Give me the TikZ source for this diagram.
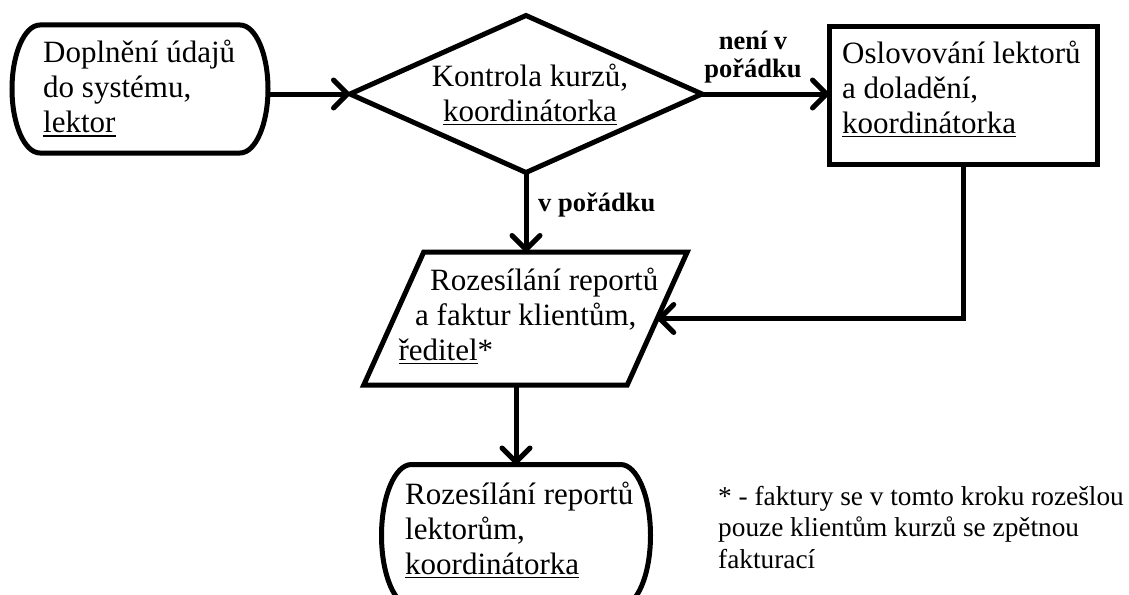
\documentclass[tikz,border=0pt]{standalone}
\usepackage{fontspec}
\setmainfont{Liberation Serif}
\usetikzlibrary{arrows.meta,shapes.geometric}
\newcommand{\undl}[1]{\setbox0=\hbox{#1}\rlap{\vrule height -2.6pt depth 4.2pt width \wd0}\box0}
\newcommand{\vlines}[1]{\vtop{\lineskiplimit=-1000pt\halign{##\hfil\cr #1\crcr}}}
\newcommand{\vclines}[1]{\vtop{\lineskiplimit=-1000pt\halign{\hfil##\hfil\cr #1\crcr}}}
\newcommand{\termoutline}[5]{%
 \pgfmathsetmacro\tmL{#1-#3/2}%
 \pgfmathsetmacro\tmR{#1+#3/2}%
 \pgfmathsetmacro\tmT{#2-#4/2}%
 \pgfmathsetmacro\tmB{#2+#4/2}%
 \pgfmathsetmacro\tmA{\tmL+#5}%
 \pgfmathsetmacro\tmC{\tmR-#5}%
 \pgfmathsetmacro\tmD{0.4477*#5}%
 \pgfmathsetmacro\tmE{0.5523*#4/2}%
 \draw[line width=5pt] (\tmA,\tmT) -- (\tmC,\tmT)
   .. controls ({\tmR-\tmD},\tmT) and (\tmR,{#2-\tmE}) .. (\tmR,#2)
   .. controls (\tmR,{#2+\tmE}) and ({\tmR-\tmD},\tmB) .. (\tmC,\tmB)
   -- (\tmA,\tmB)
   .. controls ({\tmL+\tmD},\tmB) and (\tmL,{#2+\tmE}) .. (\tmL,#2)
   .. controls (\tmL,{#2-\tmE}) and ({\tmL+\tmD},\tmT) .. cycle;
}
\begin{document}
\begin{tikzpicture}[x=1pt,y=-1pt,
  shp/.style={draw=black, line width=5pt, inner sep=0pt, outer sep=0pt},
  ghost/.style={inner sep=0pt, outer sep=0pt},
  conn/.style={line width=5pt, -{Straight Barb[length=14pt,width=28pt,round]}},
  txt/.style={inner sep=0pt, font=\fontsize{31}{35}\selectfont},
  lbl/.style={inner sep=0pt, font=\bfseries\fontsize{26.5}{28}\selectfont},
  note/.style={inner sep=0pt, font=\fontsize{27.3}{31.5}\selectfont}]
\useasboundingbox (0,0) rectangle (1129,594);
\clip (0,0) rectangle (1129,594);
\fill[white] (0,0) rectangle (1129,594);

\node[ghost, minimum width=256pt, minimum height=128pt] (start) at (140,89) {};
\termoutline{140}{89}{256}{128}{28}
\node[shp, diamond, minimum width=352pt, minimum height=157pt] (check) at (526,94) {};
\node[shp, rectangle, minimum width=268pt, minimum height=137.5pt] (fix) at (963,95.75) {};
\node[ghost, minimum width=263.5pt, minimum height=133pt] (send) at (525.5,318.5) {};
\draw[line width=5pt, line join=miter] ([xshift=30pt]send.north west) -- ([xshift=30pt]send.north east)
   -- ([xshift=-30pt]send.south east) -- ([xshift=-30pt]send.south west) -- cycle;
\node[ghost, minimum width=269pt, minimum height=142pt] (fin) at (516,535.5) {};
\termoutline{516}{535.5}{269}{142}{30}

\draw[conn] (start.east |- check.west) -- (check.west);
\draw[conn] (check.east) -- (check.east -| fix.west);
\draw[conn] (check.south) -- (check.south |- send.north);
\draw[conn] (fix.south) |- (send.east);
\draw[conn] (fin.north |- send.south) -- (fin.north);

\node[lbl, anchor=base] (notok) at (753,50) {\vclines{není v\cr pořádku}};
\node[lbl, anchor=base west] (ok) at (538,211) {v pořádku};

\node[txt, anchor=base west] (t1) at (43,62.3) {\vlines{Doplnění údajů\cr do systému,\cr \undl{lektor}}};
\node[txt, anchor=base] (t2) at (530,86) {\vclines{Kontrola kurzů,\cr \undl{koordinátorka}}};
\node[txt, anchor=base west] (t3) at (842,63.3) {\vlines{Oslovování lektorů\cr a doladění,\cr \undl{koordinátorka}}};
\node[txt, anchor=base west] (t4) at (398.3,290) {\vlines{\kern31.7pt Rozesílání reportů\cr \kern16.7pt a faktur klientům,\cr \undl{ředitel}*}};
\node[txt, anchor=base west] (t5) at (405,504) {\vlines{Rozesílání reportů\cr lektorům,\cr \undl{koordinátorka}}};
\node[note, anchor=base west] (t6) at (718,505) {\vlines{* - faktury se v tomto kroku rozešlou\cr pouze klientům kurzů se zpětnou\cr fakturací}};
\end{tikzpicture}
\end{document}
